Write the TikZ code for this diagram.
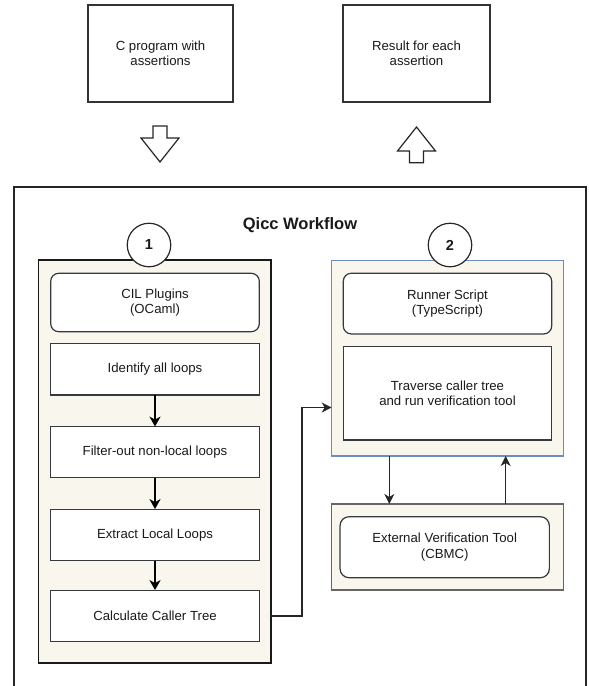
\documentclass[tikz,border=0pt]{standalone}
\usepackage{fontspec}
\setmainfont{Liberation Sans}
\usetikzlibrary{arrows.meta}
\definecolor{cream}{HTML}{F9F7ED}
\definecolor{boxline}{HTML}{36393D}
\definecolor{blueline}{HTML}{6C8EBF}
\definecolor{grayline}{HTML}{666666}
\definecolor{txt}{HTML}{1A1A1A}
\tikzset{
  every node/.style={inner sep=0pt, outer sep=0pt, text=txt, font=\fontsize{13.2}{15.5}\selectfont, align=center},
  plainbox/.style={draw=boxline, line width=1.2pt, fill=white, minimum width=208.6pt},
  roundbox/.style={plainbox, rounded corners=8pt},
  topbox/.style={draw=black!80, line width=1.2pt, fill=white, minimum height=97pt},
  panel/.style={fill=cream},
  numcircle/.style={circle, draw=black!85, line width=1.2pt, fill=white, minimum size=43.5pt, font=\fontsize{14.5}{16}\selectfont\bfseries},
  thickarr/.style={-{Stealth[length=10pt,width=11pt,inset=3pt]}, line width=1.8pt, draw=black},
  thinarr/.style={-{Stealth[length=10pt,width=10pt,inset=3pt]}, line width=1.2pt, draw=black!85},
  blockarrow/.style={draw=black!85, line width=1.2pt, fill=white, line join=miter},
}
\begin{document}
\begin{tikzpicture}[x=1pt, y=-1pt]
\useasboundingbox (0,0) rectangle (589,686);
% top boxes
\node[topbox, minimum width=145pt] (input) at (160.5,53.5) {C program with\\assertions};
\node[topbox, minimum width=147pt] (result) at (416.5,53.5) {Result for each\\assertion};
% block arrows
\draw[blockarrow] (153,126) -- (167,126) -- (167,138) -- (179,138) -- (160,162) -- (141,138) -- (153,138) -- cycle;
\draw[blockarrow] (409.5,162.7) -- (423.5,162.7) -- (423.5,151) -- (435.5,151) -- (416.5,127) -- (397.5,151) -- (409.5,151) -- cycle;
% outer workflow frame (open at the bottom)
\draw[line width=1.2pt, draw=black!85] (14,690) -- (14,187) -- (586,187) -- (586,690);
\node[font=\fontsize{16.5}{19}\selectfont\bfseries] (title) at (300,225) {Qicc Workflow};
% left panel
\node[panel, draw=black!90, line width=1.6pt, minimum width=232.2pt, minimum height=402.7pt] (lpanel) at (154.6,461.35) {};
\node[numcircle] (c1) at (149,245) {1};
\node[roundbox, minimum height=58.4pt] (cil) at (155,302.5) {CIL Plugins\\(OCaml)};
\node[plainbox, minimum height=51.6pt] (identify) at (155,369.2) {Identify all loops};
\node[plainbox, minimum height=51.2pt] (filter) at (155,452.2) {Filter-out non-local loops};
\node[plainbox, minimum height=51.6pt] (extract) at (155,534.9) {Extract Local Loops};
\node[plainbox, minimum height=51.6pt] (calc) at (155,615.9) {Calculate Caller Tree};
\draw[thickarr] (identify) -- (filter);
\draw[thickarr] (filter) -- (extract);
\draw[thickarr] (extract) -- (calc);
% right panel
\node[panel, draw=blueline, line width=1.3pt, minimum width=231.6pt, minimum height=195.5pt] (rpanel) at (447.5,358.25) {};
\node[numcircle] (c2) at (450,245) {2};
\node[roundbox, minimum width=208.4pt, minimum height=60.7pt] (runner) at (447.5,303.6) {Runner Script\\(TypeScript)};
\node[plainbox, minimum width=208.4pt, minimum height=93.3pt] (traverse) at (447.5,393.3) {Traverse caller tree\\and run verification tool};
% external tool panel
\node[panel, draw=grayline, line width=1.2pt, minimum width=231.6pt, minimum height=86pt] (cbmcpanel) at (447.5,547) {};
\node[roundbox, minimum width=209.3pt, minimum height=61pt, rounded corners=9pt] (cbmc) at (444.7,547.2) {External Verification Tool\\(CBMC)};
% connectors
\coordinate (turn) at (302,407.5);
\draw[thinarr] (lpanel.east |- calc.center) -| (turn) -- (turn -| rpanel.west);
\draw[thinarr] ([xshift=-58.2pt]rpanel.south) -- ([xshift=-58.2pt]cbmcpanel.north);
\draw[thinarr] ([xshift=58.2pt]cbmcpanel.north) -- ([xshift=58.2pt]rpanel.south);
\end{tikzpicture}
\end{document}
